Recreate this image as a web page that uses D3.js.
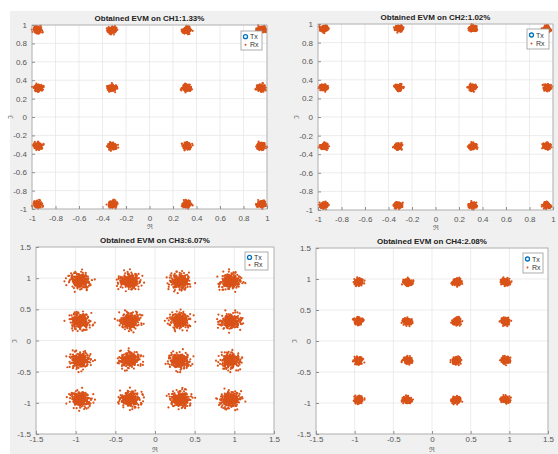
<!DOCTYPE html>
<html><head><meta charset="utf-8">
<script src="https://cdn.jsdelivr.net/npm/d3@7"></script>
<style>
html,body{margin:0;padding:0;background:#fff;}
text{font-family:"Liberation Sans",Arial,sans-serif;}
</style></head>
<body>
<svg id="c" width="558" height="454"></svg>
<script>
// ---- data ----
const channels = ["CH1", "CH2", "CH3", "CH4"];
const evmValues = [1.33, 1.02, 6.07, 2.08];
const txLevels = [-0.949, -0.316, 0.316, 0.949];
const rxSpread = [0.017, 0.015, 0.062, 0.026];
const axisLimit = [1, 1, 1.5, 1.5];
const ticksSmall = [-1, -0.8, -0.6, -0.4, -0.2, 0, 0.2, 0.4, 0.6, 0.8, 1];
const ticksLarge = [-1.5, -1, -0.5, 0, 0.5, 1, 1.5];
const legendLabels = ["Tx", "Rx"];
// hand-typed normalized offsets for the received-point clouds
const rxOffsets = [
 0.3,-1.2,0.8,-0.1,1.6,-0.7,0.0,-2.1,0.5,1.1,-0.4,0.9,-1.5,0.2,-0.9,2.3,-0.2,0.6,-1.0,1.3,
 -0.6,0.1,-1.8,0.7,0.4,-0.3,1.9,-1.1,0.0,-0.5,1.0,-2.6,0.3,-0.8,1.4,0.2,-1.3,0.6,-0.1,2.0,
 -0.4,0.9,-0.7,0.1,-1.6,1.2,0.5,-0.2,-1.0,0.8,2.7,-0.6,0.3,-1.4,0.0,1.5,-0.9,0.4,-2.2,0.7,
 -0.3,1.1,-0.5,0.2,1.7,-1.2,0.6,-0.8,0.1,-1.9,0.9,-0.1,1.3,-0.4,0.5,-2.4,0.2,-0.7,1.8,0.0,
 -1.1,0.4,-0.2,1.0,-0.6,2.2,-1.5,0.3,0.8,-0.9,0.1,-1.7,1.4,-0.3,0.6,0.0,1.2,-1.3,0.5,-0.5,
 0.7,-2.0,0.2,1.6,-0.8,0.4,-1.0,0.9,-0.2,2.5,-0.4,0.0,-1.4,1.1,0.3,-0.7,1.9,-1.2,0.6,-0.1,
 0.15,-0.35,0.55,-0.75,0.05,1.25,-0.25,-0.65,0.45,-1.05,0.85,-0.15,3.1,-0.45,0.25,-2.9,0.65,-0.05,1.05,-1.35,
 0.35,-0.55,0.95,0.12,-0.85,1.45,-0.18,0.28,-1.25,0.62,-0.32,0.08,2.05,-0.95,0.42,-0.12,-1.65,0.75,-0.48,1.15
];

// ---- layout ----
const panels = [
  {x0: 32, x1: 267, y0: 25, y1: 209},
  {x0: 318, x1: 553, y0: 24, y1: 210},
  {x0: 36, x1: 274, y0: 247, y1: 434},
  {x0: 316, x1: 548, y0: 248, y1: 434}
];
const legendPos = [
  {x: 241, y: 31, w: 21, h: 19},
  {x: 527, y: 29, w: 22, h: 20},
  {x: 245, y: 252, w: 23, h: 18},
  {x: 523, y: 253, w: 20, h: 20}
];

const svg = d3.select("#c");
svg.append("rect").attr("x", 10).attr("y", 11).attr("width", 548).attr("height", 443).attr("fill", "#f0f0f0");

const txPoints = [];
txLevels.forEach(yv => txLevels.forEach(xv => txPoints.push([xv, yv])));
const coprimes = [7, 11, 13, 17, 19, 23];
const fmt = d => String(d);

channels.forEach((ch, k) => {
  const p = panels[k];
  const lim = axisLimit[k];
  const ticks = lim === 1 ? ticksSmall : ticksLarge;
  const x = d3.scaleLinear().domain([-lim, lim]).range([p.x0, p.x1]);
  const y = d3.scaleLinear().domain([-lim, lim]).range([p.y1, p.y0]);
  const g = svg.append("g");
  g.append("rect").attr("x", p.x0).attr("y", p.y0).attr("width", p.x1 - p.x0).attr("height", p.y1 - p.y0).attr("fill", "#fff");
  // grid
  g.selectAll(".gx").data(ticks).enter().append("line")
    .attr("x1", d => x(d)).attr("x2", d => x(d)).attr("y1", p.y0).attr("y2", p.y1)
    .attr("stroke", "#e4e4e4").attr("stroke-width", 0.7);
  g.selectAll(".gy").data(ticks).enter().append("line")
    .attr("y1", d => y(d)).attr("y2", d => y(d)).attr("x1", p.x0).attr("x2", p.x1)
    .attr("stroke", "#e4e4e4").attr("stroke-width", 0.7);
  // Tx
  g.selectAll(".tx").data(txPoints).enter().append("circle")
    .attr("cx", d => x(d[0])).attr("cy", d => y(d[1])).attr("r", 2.2)
    .attr("fill", "none").attr("stroke", "#0072BD").attr("stroke-width", 1.1);
  // Rx: radial spread from the typed offsets, angle from a permuted index
  const s = rxSpread[k];
  const n = rxOffsets.length;
  const rx = [];
  const passes = k === 2 ? 3 : 2;
  txPoints.forEach((c, ci) => {
    for (let pass = 0; pass < passes; pass++) {
      const m1 = coprimes[(ci + pass) % 6];
      const m2 = coprimes[(ci + pass + 3) % 6];
      for (let i = 0; i < n; i++) {
        const r = Math.abs(rxOffsets[(i * m1 + 3 * ci + 5 * k + pass * 29) % n]);
        const a = 2 * Math.PI * ((i * m2 + 13 * ci + 7 * k + pass * 41) % n) / n;
        rx.push([c[0] + s * r * Math.cos(a), c[1] + s * r * Math.sin(a)]);
      }
    }
  });
  g.selectAll(".rx").data(rx).enter().append("circle")
    .attr("cx", d => x(d[0])).attr("cy", d => y(d[1])).attr("r", 1.1)
    .attr("fill", "#D95319");
  // frame
  g.append("rect").attr("x", p.x0).attr("y", p.y0).attr("width", p.x1 - p.x0).attr("height", p.y1 - p.y0)
    .attr("fill", "none").attr("stroke", "#a8a8a8").attr("stroke-width", 0.8);
  // axes
  const ax = d3.axisBottom(x).tickValues(ticks).tickSize(-3).tickPadding(k < 2 ? 6 : 2).tickFormat(fmt);
  const ay = d3.axisLeft(y).tickValues(ticks).tickSize(-3).tickPadding(5).tickFormat(fmt);
  const gx = g.append("g").attr("transform", `translate(0,${p.y1})`).call(ax);
  const gy = g.append("g").attr("transform", `translate(${p.x0},0)`).call(ay);
  [gx, gy].forEach(a => {
    a.select(".domain").remove();
    a.selectAll("line").attr("stroke", "#909090");
    a.selectAll("text").attr("fill", "#555").attr("font-size", 8).style("font-family", "Liberation Sans, Arial, sans-serif");
  });
  // title
  g.append("text").attr("x", (p.x0 + p.x1) / 2).attr("y", p.y0 - 4).attr("text-anchor", "middle")
    .attr("font-size", 8).attr("font-weight", "bold").attr("fill", "#222")
    .text(`Obtained EVM on ${ch}:${evmValues[k].toFixed(2)}%`);
  // axis labels
  g.append("text").attr("x", (p.x0 + p.x1) / 2).attr("y", k < 2 ? p.y1 + 20 : 452).attr("text-anchor", "middle")
    .attr("font-size", 7).attr("fill", "#666").style("font-family", "DejaVu Serif, serif").text("ℜ");
  g.append("text").attr("transform", `translate(${p.x0 - 19},${(p.y0 + p.y1) / 2}) rotate(-90)`).attr("text-anchor", "middle")
    .attr("font-size", 7).attr("fill", "#666").style("font-family", "DejaVu Serif, serif").text("ℑ");
  // legend
  const L = legendPos[k];
  const lg = g.append("g");
  lg.append("rect").attr("x", L.x).attr("y", L.y).attr("width", L.w).attr("height", L.h)
    .attr("fill", "#fff").attr("stroke", "#9a9a9a").attr("stroke-width", 0.8);
  legendLabels.forEach((lab, j) => {
    const ly = L.y + L.h * (j === 0 ? 0.3 : 0.72);
    if (j === 0) {
      lg.append("circle").attr("cx", L.x + 4.5).attr("cy", ly).attr("r", 2)
        .attr("fill", "none").attr("stroke", "#0072BD").attr("stroke-width", 1.3);
    } else {
      lg.append("circle").attr("cx", L.x + 4.5).attr("cy", ly).attr("r", 1).attr("fill", "#D95319");
    }
    lg.append("text").attr("x", L.x + 9).attr("y", ly + 2.5).attr("font-size", 7).attr("fill", "#333").text(lab);
  });
});
</script>
</body></html>
